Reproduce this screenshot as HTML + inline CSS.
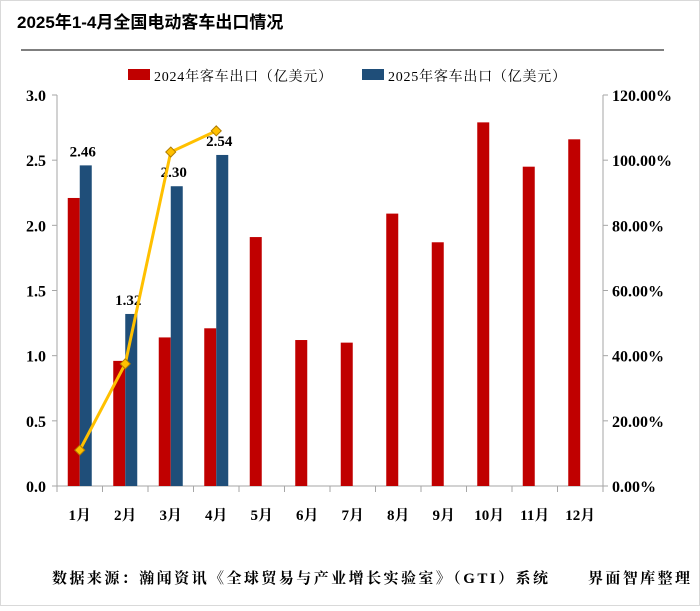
<!DOCTYPE html>
<html><head><meta charset="utf-8"><style>
body{margin:0;background:#fff;}
#wrap{position:relative;width:700px;height:606px;font-family:"Liberation Serif","Noto Serif CJK SC",serif;}
text{font-family:"Liberation Serif","Noto Serif CJK SC",serif;}
.cjk{font-family:"Liberation Sans","Noto Sans CJK SC",sans-serif;}
.ser{font-family:"Liberation Serif","Noto Serif CJK SC",serif;}
</style></head><body>
<div id="wrap">
<svg id="svg" width="700" height="606" xmlns="http://www.w3.org/2000/svg">
<rect x="0.5" y="0.5" width="699" height="605" fill="#fff" stroke="#d9d9d9"/>
<text x="17" y="28" font-size="17" font-weight="bold" class="cjk">2025年1-4月全国电动客车出口情况</text>
<line x1="21" y1="50" x2="664" y2="50" stroke="#7f7f7f" stroke-width="2"/>
<rect x="128" y="69" width="22" height="11" fill="#c00000"/>
<text x="154" y="81" font-size="14" class="ser" textLength="178">2024年客车出口（亿美元）</text>
<rect x="362" y="69" width="22" height="11" fill="#1f4e79"/>
<text x="388" y="81" font-size="14" class="ser" textLength="178">2025年客车出口（亿美元）</text>
<g id="plot"></g>
<text x="52" y="583" font-size="15" font-weight="bold" class="ser" textLength="496">数据来源：瀚闻资讯《全球贸易与产业增长实验室》（GTI）系统</text>
<text x="588" y="583" font-size="15" font-weight="bold" class="ser" textLength="102">界面智库整理</text>
</svg>
</div>
<script>
const categories=["1月","2月","3月","4月","5月","6月","7月","8月","9月","10月","11月","12月"];
const exports2024=[2.21,0.96,1.14,1.21,1.91,1.12,1.10,2.09,1.87,2.79,2.45,2.66];
const exports2025=[2.46,1.32,2.30,2.54];
const growthPct=[11,37.5,102.5,109];
const leftTicks=["0.0","0.5","1.0","1.5","2.0","2.5","3.0"];
const rightTicks=["0.00%","20.00%","40.00%","60.00%","80.00%","100.00%","120.00%"];

const NS="http://www.w3.org/2000/svg";
const g=document.getElementById('plot');
const X0=57,X1=603,Y0=486,Y1=95;
const cw=(X1-X0)/categories.length;
const yL=v=>Y0-(v/3)*(Y0-Y1);
const yR=v=>Y0-(v/120)*(Y0-Y1);
const xc=i=>X0+cw*(i+0.5);
function mk(t,a){const e=document.createElementNS(NS,t);for(const k in a)e.setAttribute(k,a[k]);g.appendChild(e);return e;}

let e;
e=mk('line',{x1:X0,y1:Y1,x2:X0,y2:Y0,stroke:'#a6a6a6'});


e=mk('line',{x1:X1,y1:Y1,x2:X1,y2:Y0,stroke:'#a6a6a6'});


e=mk('line',{x1:X0,y1:Y0,x2:X1,y2:Y0,stroke:'#a6a6a6'});



leftTicks.forEach((t,i)=>{
  const y=yL(parseFloat(t));
  e=mk('line',{x1:X0-5,y1:y,x2:X0,y2:y,stroke:'#a6a6a6'});
  
  
  e=mk('text',{x:X0-11,y:y+6,'font-size':16,'font-weight':'bold','text-anchor':'end'});e.textContent=t;
  
  
});
rightTicks.forEach((t,i)=>{
  const y=yR(parseFloat(t));
  e=mk('line',{x1:X1,y1:y,x2:X1+5,y2:y,stroke:'#a6a6a6'});
  
  
  e=mk('text',{x:X1+9,y:y+6,'font-size':16,'font-weight':'bold'});e.textContent=t;
  
  
});
for(let i=0;i<=categories.length;i++){
  const x=X0+cw*i;
  e=mk('line',{x1:x,y1:Y0,x2:x,y2:Y0+6,stroke:'#a6a6a6'});
  
  
}
categories.forEach((c,i)=>{
  e=mk('text',{x:xc(i),y:Y0+34,'font-size':15,'font-weight':'bold','text-anchor':'middle',class:'ser'});e.textContent=c;
  
  
});
const bw=12;
exports2024.forEach((v,i)=>{
  e=mk('rect',{x:xc(i)-bw,y:yL(v),width:bw,height:Y0-yL(v),fill:'#c00000'});
  
  
});
exports2025.forEach((v,i)=>{
  e=mk('rect',{x:xc(i),y:yL(v),width:bw,height:Y0-yL(v),fill:'#1f4e79'});
  
  
  e=mk('text',{x:xc(i)+3,y:yL(v)-9,'font-size':15,'font-weight':'bold','text-anchor':'middle'});e.textContent=v.toFixed(2);
  
  
});
const pts=growthPct.map((v,i)=>xc(i)+','+yR(v)).join(' ');
e=mk('polyline',{points:pts,fill:'none',stroke:'#ffc000','stroke-width':3});


growthPct.forEach((v,i)=>{
  const x=xc(i),y=yR(v),r=5;
  e=mk('polygon',{points:`${x},${y-r} ${x+r},${y} ${x},${y+r} ${x-r},${y}`,fill:'#ffc000',stroke:'#b07c00','stroke-width':1});
  
  
});
</script>
</body></html>
